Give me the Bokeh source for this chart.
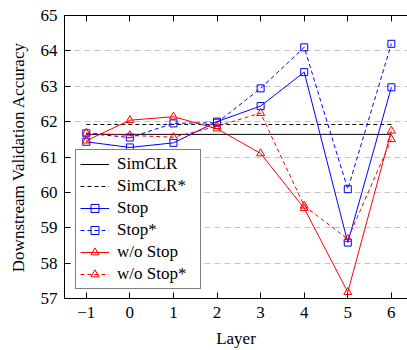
from bokeh.plotting import figure
from bokeh.models import FixedTicker, LinearAxis, Legend, LegendItem, Range1d
from bokeh.embed import file_html
from bokeh.resources import INLINE

# ---- data ----
layers = [-1, 0, 1, 2, 3, 4, 5, 6]
simclr = 61.64
simclr_star = 61.92
stop = [61.43, 61.27, 61.40, 62.00, 62.44, 63.40, 58.58, 62.97]
stop_star = [61.67, 61.55, 61.95, 61.97, 62.94, 64.10, 60.09, 64.20]
wo_stop = [61.46, 62.04, 62.14, 61.80, 61.10, 59.55, 57.18, 61.74]
wo_stop_star = [61.68, 61.61, 61.56, 61.87, 62.24, 59.62, 58.68, 61.50]
y_ticks = [57, 58, 59, 60, 61, 62, 63, 64, 65]
x_tick_labels = {-1: "\u22121"}

FONT = "Liberation Serif"
FS = "17px"
BLUE = "#0000ff"
RED = "#ff0000"

p = figure(width=407, height=350, x_range=Range1d(-1.5, 6.37), y_range=Range1d(57, 65),
           output_backend="svg", toolbar_location=None,
           min_border_left=64, min_border_right=0, min_border_top=15, min_border_bottom=46)
p.outline_line_color = None
p.background_fill_color = "white"
p.border_fill_color = "white"

# axes
p.xaxis.ticker = FixedTicker(ticks=layers)
p.xaxis.major_label_overrides = x_tick_labels
p.yaxis.ticker = FixedTicker(ticks=y_ticks)
for ax in (p.xaxis[0], p.yaxis[0]):
    ax.major_tick_in = 6
    ax.major_tick_out = 0
    ax.minor_tick_in = 0
    ax.minor_tick_out = 0
    ax.axis_line_color = "black"
    ax.major_tick_line_color = "black"
    ax.major_label_text_font = FONT
    ax.major_label_text_font_size = FS
    ax.major_label_text_color = "black"
    ax.axis_label_text_font = FONT
    ax.axis_label_text_font_size = FS
    ax.axis_label_text_font_style = "normal"
    ax.axis_label_text_color = "black"
p.xaxis.axis_label = "Layer"
p.yaxis.axis_label = "Downstream Validation Accuracy"
p.xaxis.major_label_standoff = 8
p.xaxis.axis_label_standoff = 8
p.yaxis.major_label_standoff = 7
p.yaxis.axis_label_standoff = 10

top = LinearAxis(ticker=FixedTicker(ticks=layers), major_tick_in=6, major_tick_out=0,
                 minor_tick_in=0, minor_tick_out=0, axis_line_color="black",
                 major_label_overrides={t: "" for t in layers},
                 major_label_text_font_size="1px")
p.add_layout(top, "above")

p.xgrid.visible = False
p.ygrid.ticker = FixedTicker(ticks=y_ticks[1:-1])
p.ygrid.grid_line_color = "#c4c4c4"
p.ygrid.grid_line_dash = "6 4"
p.ygrid.grid_line_width = 1

xs_h = [layers[0], layers[-1]]
r_sim = p.line(xs_h, [simclr, simclr], line_color="black", line_width=1)
r_sims = p.line(xs_h, [simclr_star, simclr_star], line_color="black", line_width=1, line_dash="4 3")

r_stop_l = p.line(layers, stop, line_color=BLUE, line_width=1)
r_stop_m = p.scatter(layers, stop, marker="square", size=7, line_color=BLUE, fill_color=None, line_width=1)
r_stops_l = p.line(layers, stop_star, line_color=BLUE, line_width=1, line_dash="4 3")
r_stops_m = p.scatter(layers, stop_star, marker="square", size=7, line_color=BLUE, fill_color=None, line_width=1)

r_wo_l = p.line(layers, wo_stop, line_color=RED, line_width=1)
r_wo_m = p.scatter(layers, wo_stop, marker="triangle", size=8, line_color=RED, fill_color=None, line_width=1)
r_wos_l = p.line(layers, wo_stop_star, line_color=RED, line_width=1, line_dash="4 3")
r_wos_m = p.scatter(layers, wo_stop_star, marker="triangle", size=8, line_color=RED, fill_color=None, line_width=1)

legend = Legend(items=[
    LegendItem(label="SimCLR", renderers=[r_sim]),
    LegendItem(label="SimCLR*", renderers=[r_sims]),
    LegendItem(label="Stop", renderers=[r_stop_l, r_stop_m]),
    LegendItem(label="Stop*", renderers=[r_stops_l, r_stops_m]),
    LegendItem(label="w/o Stop", renderers=[r_wo_l, r_wo_m]),
    LegendItem(label="w/o Stop*", renderers=[r_wos_l, r_wos_m]),
], location=(11, 9))
legend.margin = 0
legend.padding = 4
legend.spacing = 2
legend.glyph_width = 29
legend.glyph_height = 20
legend.label_height = 20
legend.label_width = 79
legend.label_standoff = 8
legend.label_text_font = FONT
legend.label_text_font_size = FS
legend.label_text_color = "black"
legend.label_text_align = "center"
legend.border_line_color = "black"
legend.border_line_width = 1
legend.background_fill_color = "white"
legend.background_fill_alpha = 1
p.add_layout(legend, "center")

open("out.html", "w").write(file_html(p, INLINE))
